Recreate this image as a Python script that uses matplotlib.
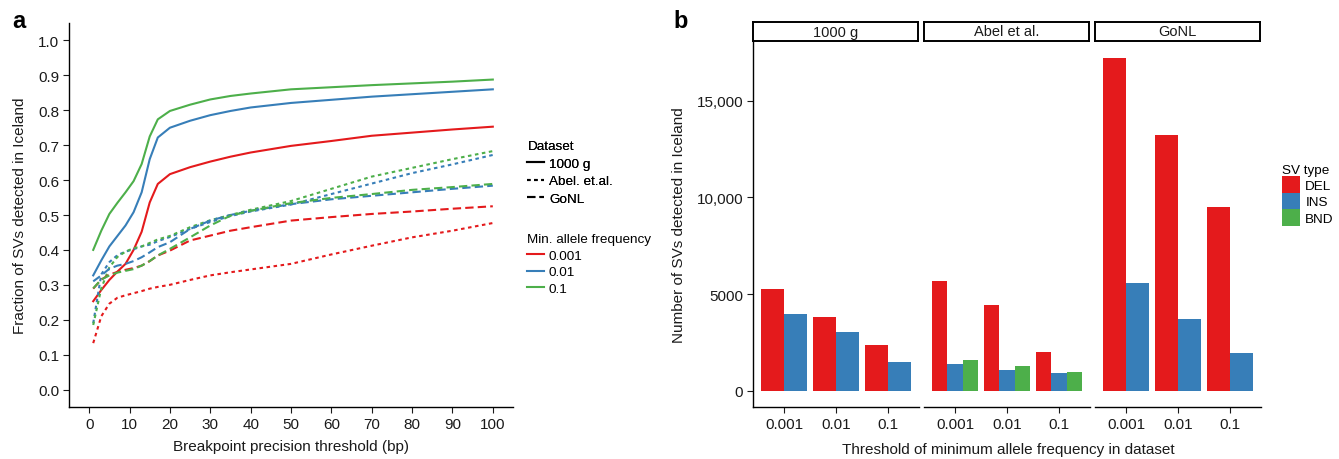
import matplotlib
matplotlib.use("Agg")
import matplotlib.pyplot as plt
from matplotlib.lines import Line2D
from matplotlib.patches import Patch

plt.rcParams['font.family'] = ['Liberation Sans', 'DejaVu Sans']

# ---- panel a data ----
bp = [1, 3, 5, 7, 9, 11, 13, 15, 17, 20, 25, 30, 35, 40, 50, 60, 70, 80, 90, 100]

g1000_0001 = [0.253, 0.285, 0.314, 0.338, 0.36, 0.40, 0.452, 0.536, 0.589, 0.617,
              0.637, 0.653, 0.667, 0.679, 0.698, 0.712, 0.727, 0.736, 0.745, 0.753]
g1000_001 = [0.327, 0.37, 0.41, 0.44, 0.47, 0.508, 0.565, 0.66, 0.722, 0.75,
             0.77, 0.786, 0.798, 0.808, 0.821, 0.83, 0.839, 0.846, 0.853, 0.86]
g1000_01 = [0.40, 0.455, 0.503, 0.535, 0.565, 0.597, 0.646, 0.725, 0.774, 0.798,
            0.816, 0.831, 0.841, 0.848, 0.86, 0.866, 0.872, 0.877, 0.882, 0.888]

abel_0001 = [0.133, 0.21, 0.246, 0.263, 0.27, 0.276, 0.282, 0.289, 0.294, 0.30,
             0.314, 0.327, 0.336, 0.344, 0.36, 0.387, 0.412, 0.436, 0.455, 0.477]
abel_001 = [0.19, 0.33, 0.365, 0.385, 0.395, 0.402, 0.41, 0.415, 0.425, 0.437,
            0.46, 0.48, 0.497, 0.51, 0.53, 0.56, 0.59, 0.62, 0.645, 0.672]
abel_01 = [0.185, 0.29, 0.35, 0.38, 0.395, 0.405, 0.41, 0.42, 0.43, 0.44,
           0.465, 0.485, 0.50, 0.515, 0.54, 0.575, 0.61, 0.635, 0.66, 0.683]

gonl_0001 = [0.289, 0.315, 0.329, 0.337, 0.343, 0.348, 0.355, 0.368, 0.384, 0.398,
             0.427, 0.441, 0.455, 0.465, 0.484, 0.494, 0.503, 0.51, 0.518, 0.525]
gonl_001 = [0.31, 0.327, 0.346, 0.355, 0.36, 0.368, 0.379, 0.393, 0.408, 0.422,
            0.46, 0.484, 0.50, 0.512, 0.531, 0.545, 0.555, 0.565, 0.575, 0.584]
gonl_01 = [0.29, 0.315, 0.327, 0.335, 0.34, 0.345, 0.355, 0.368, 0.384, 0.403,
           0.436, 0.47, 0.498, 0.512, 0.534, 0.549, 0.56, 0.572, 0.58, 0.589]

# ---- panel b data ----
datasets = ['1000 g', 'Abel et al.', 'GoNL']
mafs = ['0.001', '0.01', '0.1']
del_counts = {'1000 g': [5260, 3800, 2360], 'Abel et al.': [5680, 4430, 2020], 'GoNL': [17210, 13230, 9500]}
ins_counts = {'1000 g': [3970, 3050, 1500], 'Abel et al.': [1380, 1070, 920], 'GoNL': [5570, 3710, 1950]}
bnd_counts = {'1000 g': None, 'Abel et al.': [1590, 1280, 970], 'GoNL': None}

RED, BLUE, GREEN = '#E41A1C', '#377EB8', '#4DAF4A'
TXT = '#1a1a1a'

fig = plt.figure(figsize=(13.39, 4.6), dpi=100)

# ===== panel a =====
ax = fig.add_axes([69/1339, 52/460, 444/1339, 384/460])
styles = {'solid': '-', 'abel': (0, (1.7, 1.7)), 'gonl': (0, (4, 2))}
lw = 1.5
for ys, c in [(g1000_0001, RED), (g1000_001, BLUE), (g1000_01, GREEN)]:
    ax.plot(bp, ys, color=c, lw=lw, linestyle='-')
for ys, c in [(abel_0001, RED), (abel_001, BLUE), (abel_01, GREEN)]:
    ax.plot(bp, ys, color=c, lw=lw, linestyle=styles['abel'])
for ys, c in [(gonl_0001, RED), (gonl_001, BLUE), (gonl_01, GREEN)]:
    ax.plot(bp, ys, color=c, lw=lw, linestyle=styles['gonl'])

ax.set_xlim(-5, 105)
ax.set_ylim(-0.05, 1.05)
ax.set_xticks(range(0, 101, 10))
ax.set_yticks([i / 10 for i in range(11)])
ax.set_yticklabels(['%.1f' % (i / 10) for i in range(11)])
for s in ['top', 'right']:
    ax.spines[s].set_visible(False)
for s in ['left', 'bottom']:
    ax.spines[s].set_linewidth(1.0)
ax.tick_params(direction='out', length=4, width=0.8, labelsize=11, colors=TXT, pad=3)
ax.set_xlabel('Breakpoint precision threshold (bp)', fontsize=11, color=TXT, labelpad=6)
ax.set_ylabel('Fraction of SVs detected in Iceland', fontsize=11, color=TXT, labelpad=8)

legfs = 9.7
h1 = [Line2D([], [], color='black', lw=lw, linestyle='-'),
      Line2D([], [], color='black', lw=lw, linestyle=styles['abel']),
      Line2D([], [], color='black', lw=lw, linestyle=styles['gonl'])]
leg1 = fig.legend(h1, ['1000 g', 'Abel. et.al.', 'GoNL'], title='Dataset',
                  loc='upper left', bbox_to_anchor=(522/1339, 1 - 136/460),
                  frameon=False, fontsize=legfs, title_fontsize=legfs,
                  handlelength=1.2, handletextpad=0.4, labelspacing=0.38,
                  alignment='left', borderaxespad=0)
h2 = [Line2D([], [], color=c, lw=lw) for c in (RED, BLUE, GREEN)]
leg2 = fig.legend(h2, mafs, title='Min. allele frequency',
                  loc='upper left', bbox_to_anchor=(522/1339, 1 - 229/460),
                  frameon=False, fontsize=legfs, title_fontsize=legfs,
                  handlelength=1.2, handletextpad=0.4, labelspacing=0.3,
                  alignment='left', borderaxespad=0)
fig.add_artist(leg1)

fig.text(12/1339, 1 - 22/460, 'a', fontsize=17, fontweight='bold', va='center', ha='left')

# ===== panel b =====
facet_left = [753, 924, 1095]
facet_w = 166
b_bottom, b_top = 408, 42
for i, ds in enumerate(datasets):
    axb = fig.add_axes([facet_left[i]/1339, (460 - b_bottom)/460, facet_w/1339, (b_bottom - b_top)/460])
    series = [(del_counts[ds], RED), (ins_counts[ds], BLUE)]
    if bnd_counts[ds] is not None:
        series.append((bnd_counts[ds], GREEN))
    n = len(series)
    w = 0.9 / n
    for j, (vals, c) in enumerate(series):
        pos = [k + 1 - 0.45 + w * (j + 0.5) for k in range(3)]
        axb.bar(pos, vals, width=w, color=c, linewidth=0)
    axb.set_xlim(0.4, 3.6)
    axb.set_ylim(-843, 18090)
    axb.set_xticks([1, 2, 3])
    axb.set_xticklabels(mafs)
    axb.set_yticks([0, 5000, 10000, 15000])
    for s in ['top', 'right']:
        axb.spines[s].set_visible(False)
    axb.spines['bottom'].set_linewidth(1.0)
    axb.tick_params(direction='out', length=4, width=0.8, labelsize=11, colors=TXT, pad=3)
    if i == 0:
        axb.set_yticklabels(['0', '5000', '10,000', '15,000'])
        axb.spines['left'].set_linewidth(1.0)
        axb.set_ylabel('Number of SVs detected in Iceland', fontsize=11, color=TXT, labelpad=8)
    else:
        axb.spines['left'].set_visible(False)
        axb.tick_params(axis='y', left=False, labelleft=False)
    # facet strip
    strip = fig.add_axes([facet_left[i]/1339, (460 - 42)/460, (facet_w - 1)/1339, 19/460])
    strip.set_xticks([])
    strip.set_yticks([])
    for s in strip.spines.values():
        s.set_linewidth(1.4)
    strip.text(0.5, 0.5, ds, ha='center', va='center', fontsize=10.5, color=TXT,
               transform=strip.transAxes)

fig.text(1008/1339, 1 - 450/460, 'Threshold of minimum allele frequency in dataset',
         ha='center', va='center', fontsize=11, color=TXT)
fig.text(673/1339, 1 - 22/460, 'b', fontsize=17, fontweight='bold', va='center', ha='left')

h3 = [Patch(facecolor=c, edgecolor='none') for c in (RED, BLUE, GREEN)]
fig.legend(h3, ['DEL', 'INS', 'BND'], title='SV type', loc='upper left',
           bbox_to_anchor=(1277/1339, 1 - 160/460), frameon=False,
           fontsize=legfs, title_fontsize=legfs, handlelength=1.3, handleheight=1.5,
           handletextpad=0.4, labelspacing=0.0, alignment='left', borderaxespad=0)

fig.savefig('out.png', dpi=100)
